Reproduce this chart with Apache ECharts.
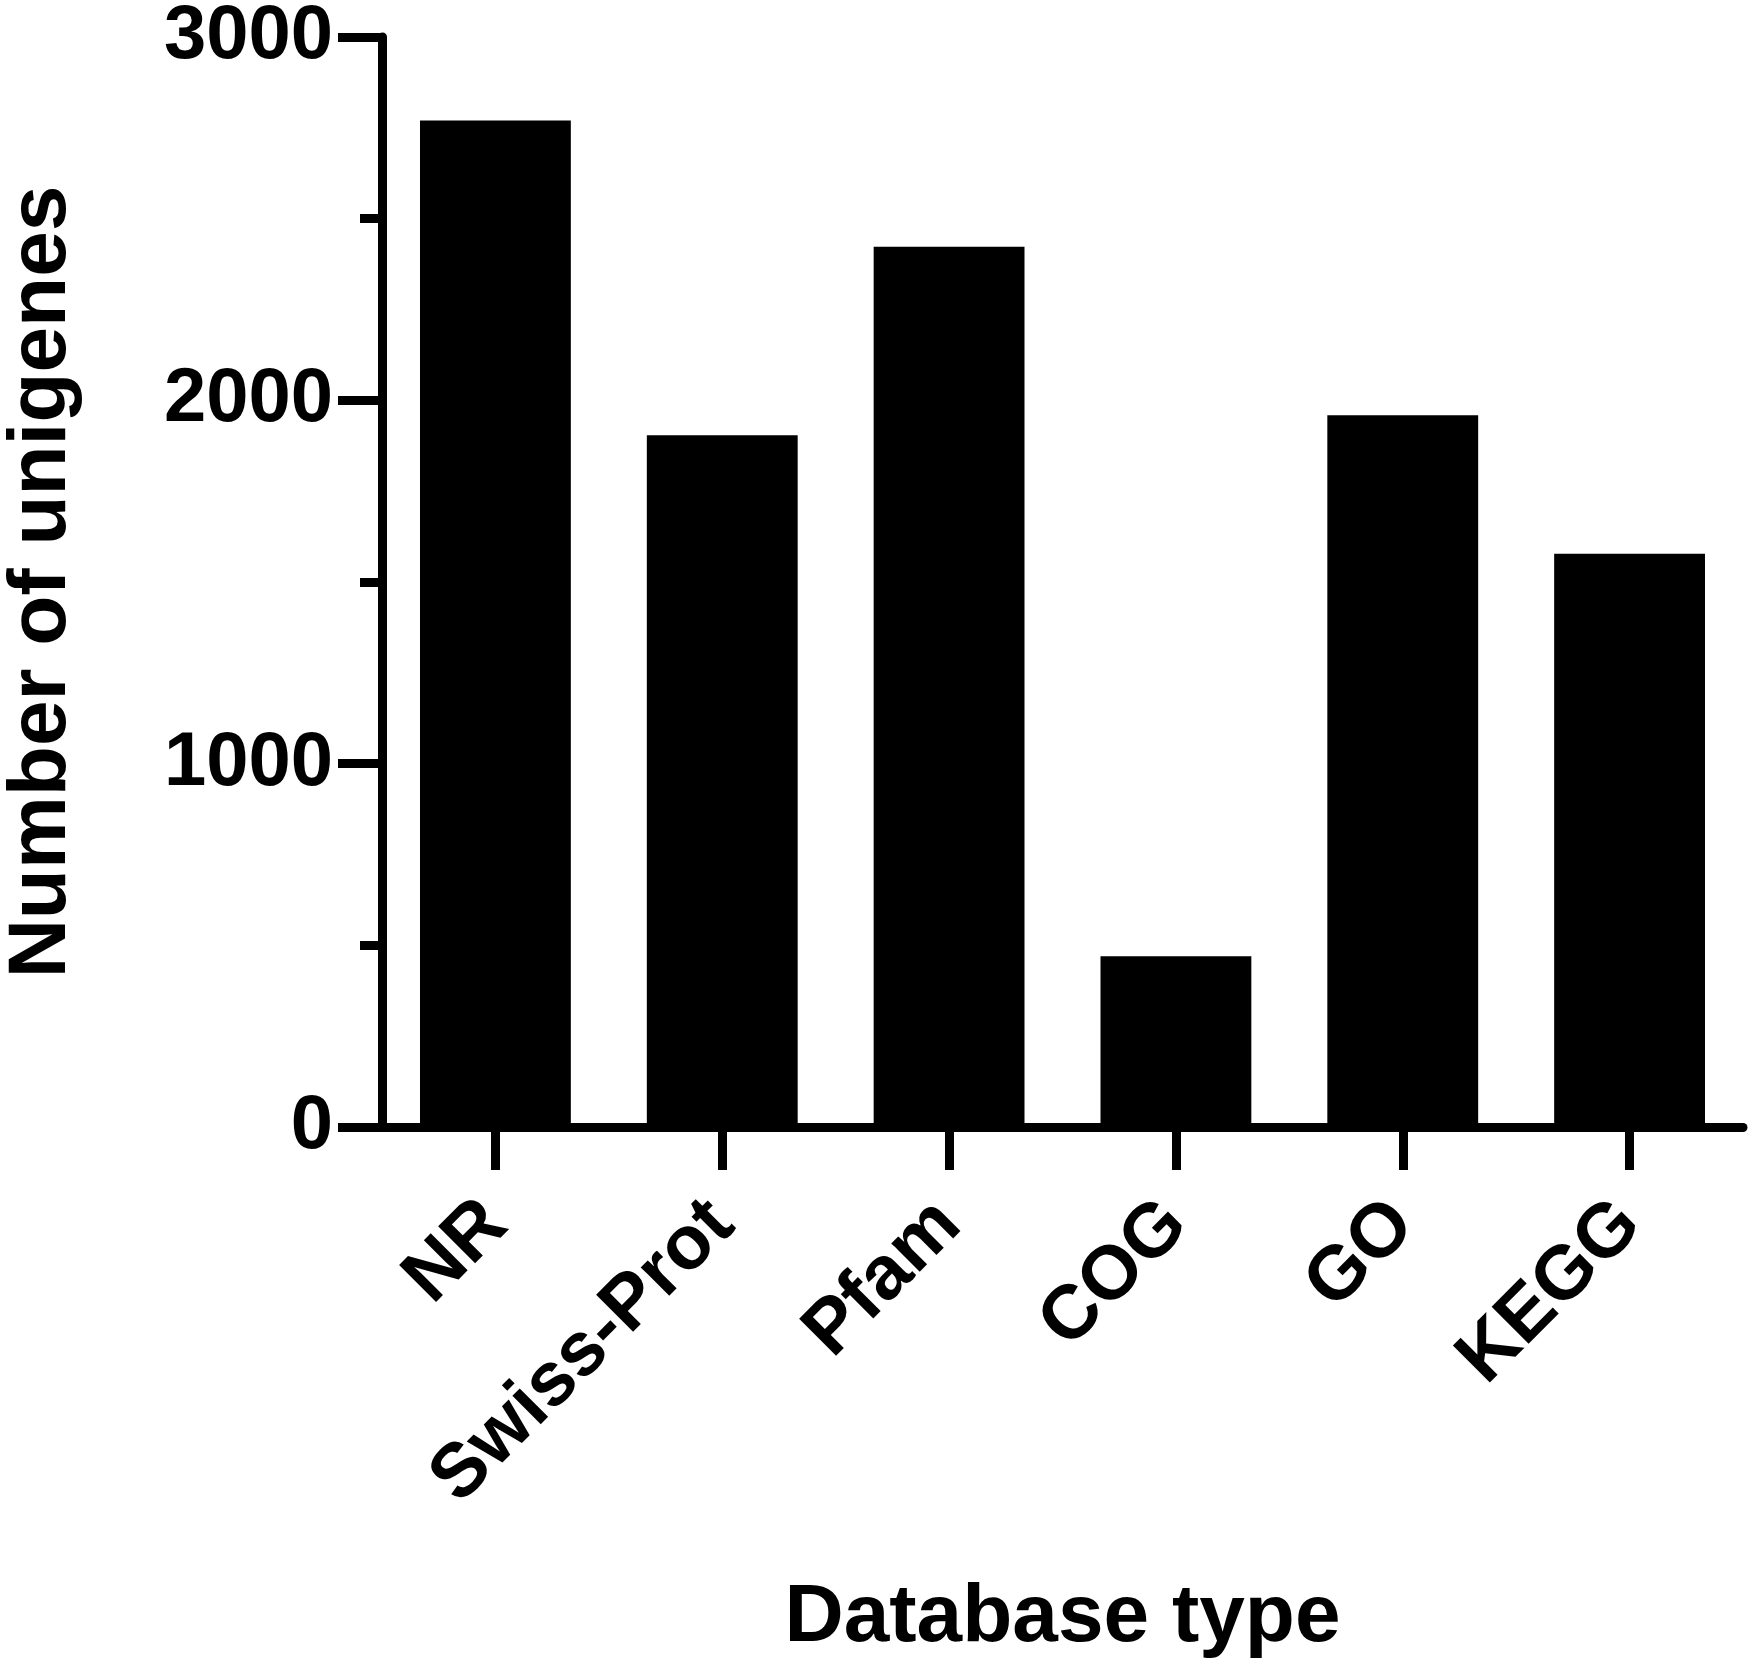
<!DOCTYPE html>
<html>
<head>
<meta charset="utf-8">
<script src="https://cdn.jsdelivr.net/npm/echarts@6/dist/echarts.min.js"></script>
<style>
html,body{margin:0;padding:0;background:#fff;}
#chart{width:1750px;height:1666px;}
</style>
</head>
<body>
<div id="chart"></div>
<script>
const categories = ['NR', 'Swiss-Prot', 'Pfam', 'COG', 'GO', 'KEGG'];
const values = [2770, 1904, 2423, 470, 1959, 1578];
const yTicks = { min: 0, max: 3000, interval: 1000 };
const xTitle = 'Database type';
const yTitle = 'Number of unigenes';

const FONT = 'Liberation Sans, Arial, Helvetica, sans-serif';
const chart = echarts.init(document.getElementById('chart'), null, { renderer: 'canvas' });
chart.setOption({
  backgroundColor: '#ffffff',
  animation: false,
  grid: { left: 382, right: 7, top: 37, bottom: 539, containLabel: false, outerBoundsMode: 'none' },
  xAxis: {
    type: 'category',
    data: categories,
    boundaryGap: true,
    name: xTitle,
    nameLocation: 'middle',
    nameGap: 450,
    nameTextStyle: { fontFamily: FONT, fontWeight: 'bold', fontSize: 82, color: '#000' },
    axisLine: { show: true, lineStyle: { color: '#000', width: 9 } },
    axisTick: { show: true, alignWithLabel: true, length: 43, lineStyle: { color: '#000', width: 9 } },
    axisLabel: { rotate: 45, margin: 86, fontFamily: FONT, fontWeight: 'bold', fontSize: 76, color: '#000', interval: 0 },
    splitLine: { show: false }
  },
  yAxis: {
    type: 'value',
    min: yTicks.min,
    max: yTicks.max,
    interval: yTicks.interval,
    name: yTitle,
    nameLocation: 'middle',
    nameGap: 299,
    nameRotate: 90,
    nameTextStyle: { fontFamily: FONT, fontWeight: 'bold', fontSize: 82, color: '#000' },
    axisLine: { show: true, lineStyle: { color: '#000', width: 9 } },
    axisTick: { show: true, length: 44, lineStyle: { color: '#000', width: 9 } },
    minorTick: { show: true, splitNumber: 2, length: 22, lineStyle: { color: '#000', width: 9 } },
    axisLabel: { margin: 49, fontFamily: FONT, fontWeight: 'bold', fontSize: 76, color: '#000', formatter: function (v) { return String(v); } },
    splitLine: { show: false },
    minorSplitLine: { show: false }
  },
  series: [{
    type: 'bar',
    data: values,
    barCategoryGap: '33.5%',
    itemStyle: { color: '#000' },
    silent: true
  }]
});
</script>
</body>
</html>
